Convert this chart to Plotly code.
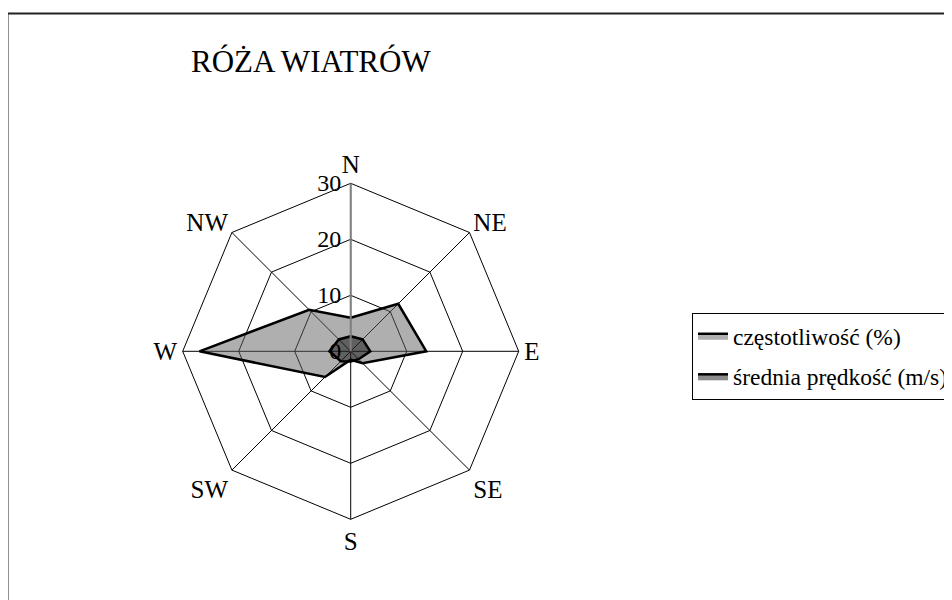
import plotly.graph_objects as go

directions = ["N", "NE", "E", "SE", "S", "SW", "W", "NW"]
frequency = [6.0, 12.0, 13.5, 3.0, 1.5, 6.5, 27.0, 10.5]
speed = [2.7, 3.0, 3.5, 2.0, 1.8, 2.5, 3.8, 3.0]
radial_ticks = [0, 10, 20, 30]
freq_name = "częstotliwość (%)"
speed_name = "średnia prędkość (m/s)"
title_text = "RÓŻA WIATRÓW"

W, H = 952, 600
FONT = "Liberation Serif"
OFF = 8.0

cx, cy, R = 350.7 - OFF, 351.3 - OFF, 168.0

def closed(v):
    return list(v) + [v[0]]

fig = go.Figure()
fig.add_trace(go.Scatterpolar(
    r=closed(frequency), theta=closed(directions), name=freq_name,
    mode="lines", fill="toself", fillcolor="rgba(95,95,95,0.5)",
    line=dict(color="black", width=2.5), legendgroup="a",
))
fig.add_trace(go.Scatterpolar(
    r=closed(speed), theta=closed(directions), name=speed_name,
    mode="lines", fill="toself", fillcolor="rgba(0,0,0,0.45)",
    line=dict(color="black", width=2.5), legendgroup="b",
))

fig.update_layout(
    width=W, height=H,
    margin=dict(l=0, r=0, t=0, b=0),
    paper_bgcolor="white",
    font=dict(family=FONT, size=25, color="black"),
    polar=dict(
        domain=dict(x=[(cx - R) / W, (cx + R) / W], y=[1 - (cy + R) / H, 1 - (cy - R) / H]),
        bgcolor="white",
        gridshape="linear",
        angularaxis=dict(
            direction="clockwise", rotation=90, categoryorder="array", categoryarray=directions,
            showline=True, linecolor="black", linewidth=1,
            showgrid=True, gridcolor="black", gridwidth=1,
            ticks="", tickfont=dict(size=25, family=FONT),
        ),
        radialaxis=dict(
            range=[0, 30], tickvals=radial_ticks, ticktext=[str(v) for v in radial_ticks],
            angle=90, side="counterclockwise", tickangle=90,
            showline=True, linecolor="#808080", linewidth=2,
            showgrid=True, gridcolor="black", gridwidth=1,
            ticks="", tickfont=dict(size=24, family=FONT),
        ),
    ),
    legend=dict(
        x=(692 - OFF) / W, y=1 - (313 - OFF) / H, xanchor="left", yanchor="top",
        bordercolor="black", borderwidth=1, bgcolor="white",
        font=dict(size=23.5, family=FONT), tracegroupgap=7,
        itemwidth=30,
    ),
    showlegend=True,
    annotations=[dict(
        text=title_text, x=(311 - OFF) / W, y=1 - (62 - OFF) / H, xref="paper", yref="paper",
        xanchor="center", yanchor="middle", showarrow=False,
        font=dict(size=31, family=FONT, color="black"),
    )],
    shapes=[dict(
        type="rect", xref="paper", yref="paper",
        x0=(7.5 - OFF) / W, y0=1 - (13.5 - OFF) / H, x1=1.05, y1=-0.05,
        line=dict(color="#222", width=2), fillcolor="rgba(0,0,0,0)", layer="below",
    )],
)

fig.write_html("out.html")
